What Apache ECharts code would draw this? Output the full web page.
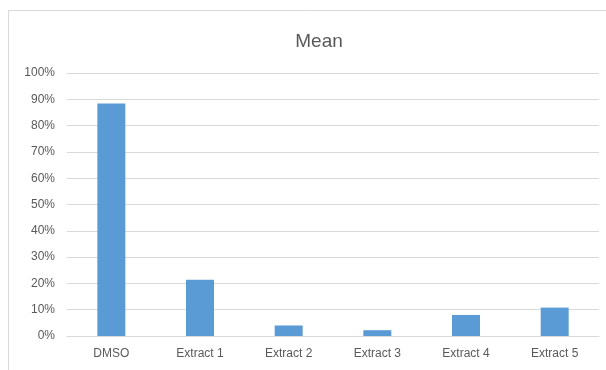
<!DOCTYPE html>
<html>
<head>
<meta charset="utf-8">
<script src="https://cdn.jsdelivr.net/npm/echarts@6/dist/echarts.min.js"></script>
<style>
  html, body { margin: 0; padding: 0; background: #fff; }
  #chart { width: 606px; height: 370px; }
</style>
</head>
<body>
<div id="chart"></div>
<script>
var categories = ['DMSO', 'Extract 1', 'Extract 2', 'Extract 3', 'Extract 4', 'Extract 5'];
var meanValues = [0.884, 0.214, 0.040, 0.022, 0.080, 0.108];
var yTicks = [0, 0.1, 0.2, 0.3, 0.4, 0.5, 0.6, 0.7, 0.8, 0.9, 1.0];

var textColor = '#595959';
var ruleColor = '#d9d9d9';
var barColor = '#5b9bd5';
var fontFamily = '"Liberation Sans", Arial, sans-serif';

var chart = echarts.init(document.getElementById('chart'), null, { renderer: 'canvas' });

chart.setOption({
  animation: false,
  backgroundColor: '#fff',
  title: {
    text: 'Mean',
    left: 314,
    textAlign: 'center',
    top: 27,
    textStyle: { color: textColor, fontSize: 19, fontWeight: 'normal', fontFamily: fontFamily }
  },
  graphic: [{
    type: 'rect',
    shape: { x: 8.5, y: 10.5, width: 640, height: 400 },
    style: { fill: 'none', stroke: ruleColor, lineWidth: 1 },
    silent: true
  }],
  grid: { left: 67, right: 7, top: 73, bottom: 34 },
  xAxis: {
    type: 'category',
    data: categories,
    axisLine: { show: true, lineStyle: { color: ruleColor, width: 1 } },
    axisTick: { show: false },
    axisLabel: { color: textColor, fontSize: 12, fontFamily: fontFamily, margin: 12 }
  },
  yAxis: {
    type: 'value',
    min: yTicks[0],
    max: yTicks[yTicks.length - 1],
    interval: 0.1,
    axisLine: { show: false },
    axisTick: { show: false },
    splitLine: { lineStyle: { color: ruleColor, width: 1 } },
    axisLabel: {
      color: textColor, fontSize: 12, fontFamily: fontFamily, margin: 12,
      formatter: function (v) { return Math.round(v * 100) + '%'; }
    }
  },
  series: [{
    type: 'bar',
    data: meanValues,
    barWidth: 28,
    itemStyle: { color: barColor }
  }]
});
</script>
</body>
</html>
